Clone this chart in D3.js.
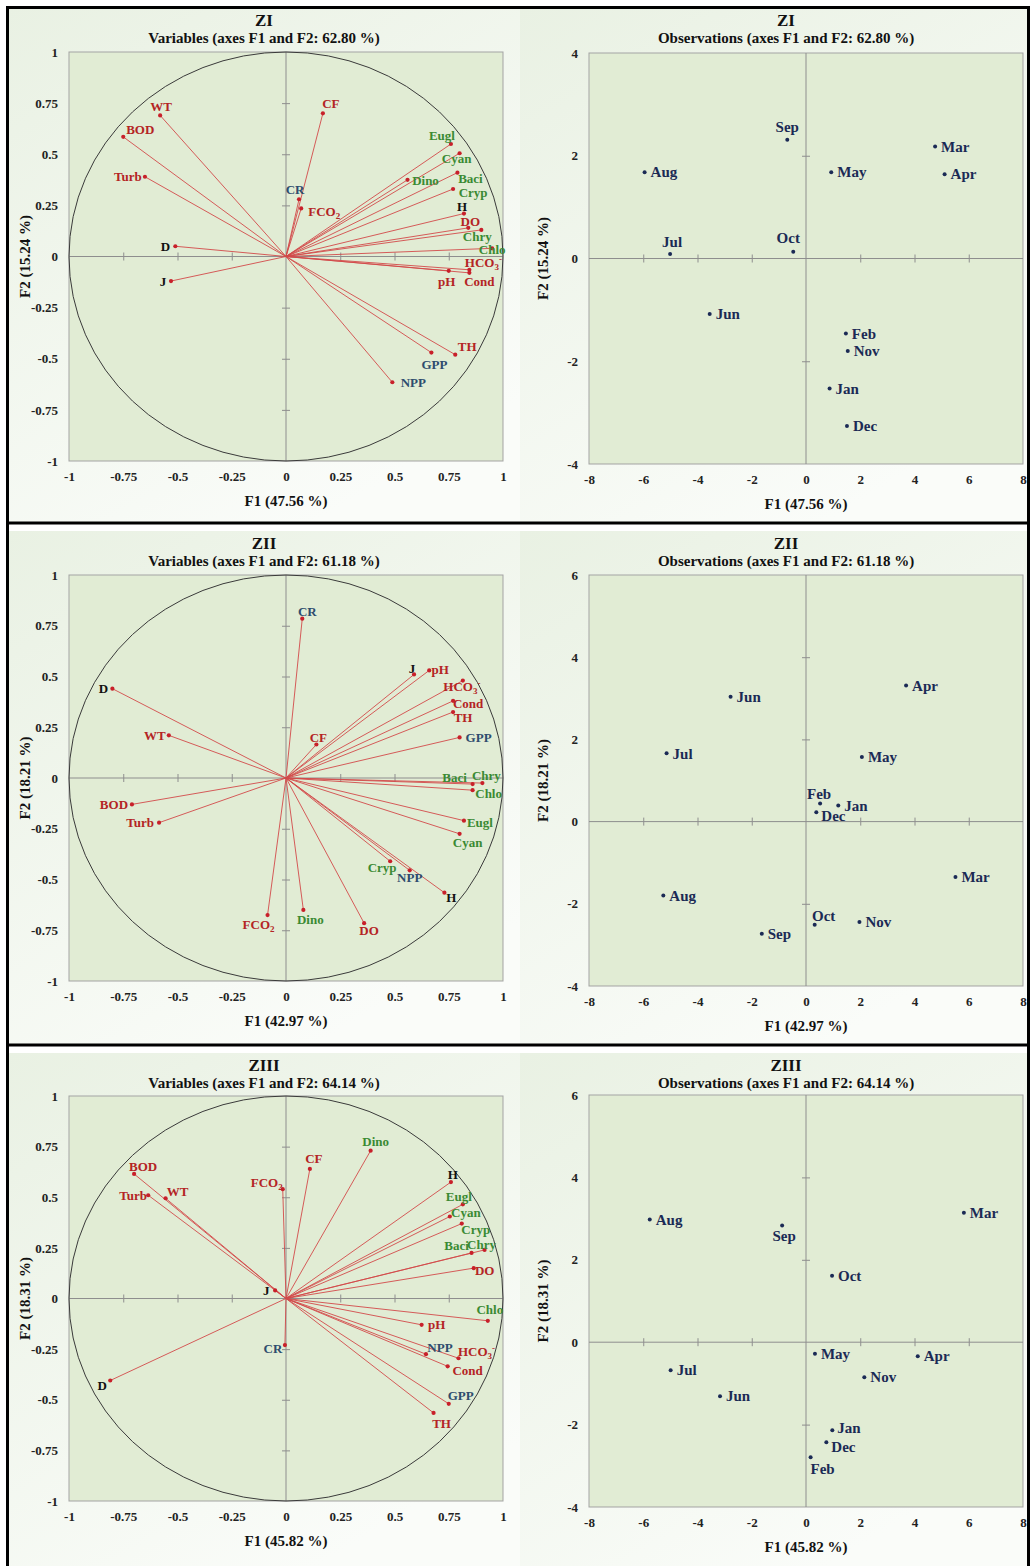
<!DOCTYPE html>
<html><head><meta charset="utf-8">
<script src="https://cdn.jsdelivr.net/npm/d3@7"></script>
<style>
body{margin:0;background:#fff}
svg{display:block}
text{font-family:"Liberation Serif","Times New Roman",serif;font-weight:bold}
</style>
</head><body>
<svg id="chart" width="1030" height="1566"></svg>
<script>
// ---------------- DATA ----------------
const zones = ["ZI", "ZII", "ZIII"];
const totalPct = ["62.80", "61.18", "64.14"];
const f1Pct = ["47.56", "42.97", "45.82"];
const f2Pct = ["15.24", "18.21", "18.31"];

const variables = ["WT","BOD","Turb","D","J","CF","CR","FCO2","Eugl","Cyan","Dino","Baci","Cryp","H","DO","Chry","Chlo","HCO3","Cond","pH","TH","GPP","NPP"];
const variableGroup = ["env","env","env","site","site","env","prod","env","phyto","phyto","phyto","phyto","phyto","site","env","phyto","phyto","env","env","env","env","prod","prod"];

const zI_varF1 = [-0.58,-0.75,-0.65,-0.51,-0.53,0.17,0.06,0.07,0.76,0.80,0.56,0.79,0.77,0.82,0.84,0.90,0.95,0.845,0.845,0.75,0.78,0.67,0.49];
const zI_varF2 = [0.69,0.585,0.39,0.05,-0.12,0.70,0.28,0.235,0.55,0.505,0.375,0.41,0.33,0.21,0.14,0.13,0.04,-0.065,-0.08,-0.07,-0.48,-0.47,-0.615];

const zII_varF1 = [-0.54,-0.71,-0.585,-0.80,0.59,0.14,0.075,-0.085,0.82,0.80,0.08,0.86,0.48,0.73,0.36,0.905,0.86,0.815,0.77,0.66,0.77,0.80,0.57];
const zII_varF2 = [0.21,-0.13,-0.22,0.44,0.51,0.165,0.785,-0.675,-0.21,-0.275,-0.65,-0.03,-0.41,-0.565,-0.715,-0.025,-0.06,0.48,0.38,0.53,0.325,0.20,-0.455];

const zIII_varF1 = [-0.555,-0.70,-0.635,-0.81,-0.05,0.11,-0.005,-0.015,0.815,0.755,0.39,0.855,0.81,0.76,0.865,0.915,0.93,0.795,0.745,0.625,0.68,0.75,0.645];
const zIII_varF2 = [0.495,0.615,0.51,-0.405,0.04,0.64,-0.23,0.54,0.465,0.405,0.73,0.225,0.37,0.575,0.15,0.24,-0.11,-0.295,-0.335,-0.13,-0.565,-0.52,-0.275];

const months = ["Jan","Feb","Mar","Apr","May","Jun","Jul","Aug","Sep","Oct","Nov","Dec"];
const zI_obsF1 = [0.87,1.47,4.76,5.11,0.93,-3.55,-5.01,-5.95,-0.69,-0.47,1.54,1.51];
const zI_obsF2 = [-2.53,-1.46,2.18,1.64,1.68,-1.08,0.09,1.68,2.31,0.13,-1.80,-3.26];
const zII_obsF1 = [1.19,0.52,5.51,3.69,2.06,-2.78,-5.14,-5.26,-1.63,0.32,1.97,0.38];
const zII_obsF2 = [0.39,0.44,-1.35,3.31,1.57,3.04,1.66,-1.80,-2.73,-2.51,-2.44,0.23];
const zIII_obsF1 = [0.97,0.17,5.82,4.12,0.33,-3.17,-4.99,-5.76,-0.88,0.96,2.15,0.75];
const zIII_obsF2 = [-2.14,-2.79,3.14,-0.34,-0.28,-1.31,-0.68,2.98,2.83,1.61,-0.85,-2.43];

const varTicks = [-1,-0.75,-0.5,-0.25,0,0.25,0.5,0.75,1];
const obsXTicks = [-8,-6,-4,-2,0,2,4,6,8];
const obsYTicksI = [-4,-2,0,2,4];
const obsYTicksII = [-4,-2,0,2,4,6];

// ---------------- LAYOUT / STYLE ----------------
const varSets = [[zI_varF1,zI_varF2],[zII_varF1,zII_varF2],[zIII_varF1,zIII_varF2]];
const obsSets = [[zI_obsF1,zI_obsF2],[zII_obsF1,zII_obsF2],[zIII_obsF1,zIII_obsF2]];
const obsYDomains = [[-4,4],[-4,6],[-4,6]];
const obsYTickSets = [obsYTicksI, obsYTicksII, obsYTicksII];

const rowsLayout = [
  {top:0,   lp:[69,503,52,461],   rp:[589,1023,53,464]},
  {top:523, lp:[69,503,575,981],  rp:[589,1023,575,986]},
  {top:1045,lp:[69,503,1096,1501],rp:[589,1023,1095,1507]}
];

const groupColor = {env:"#b42424", site:"#111111", prod:"#2e4c6e", phyto:"#3a8a33"};

// label centre offsets (px) for variable labels, per zone
const varLabelOff = [
 {WT:[1,-9],BOD:[17,-7],Turb:[-17,0],D:[-10,0],J:[-8,0],CF:[8,-10],CR:[-4,-10],FCO2:[23,3],Eugl:[-9,-9],Cyan:[-3,5],Dino:[18,1],Baci:[13,6],Cryp:[20,3],H:[-2,-7],DO:[2,-6],Chry:[-4,7],Chlo:[0,1],HCO3:[14,-7],Cond:[10,9],pH:[-2,11],TH:[12,-8],GPP:[3,12],NPP:[21,0]},
 {CR:[5,-7],D:[-9,0],WT:[-14,0],CF:[2,-7],J:[-2,-6],pH:[11,-1],HCO3:[-1,6],Cond:[15,3],TH:[10,5],GPP:[19,0],Baci:[-18,-7],Chry:[4,-8],Chlo:[16,3],BOD:[-18,0],Turb:[-19,0],Eugl:[16,2],Cyan:[8,9],Cryp:[-8,6],NPP:[0,7],H:[7,5],DO:[5,7],Dino:[7,9],FCO2:[-9,9]},
 {Dino:[5,-9],CF:[4,-10],FCO2:[-16,-7],BOD:[9,-8],Turb:[-15,0],WT:[12,-7],H:[2,-8],Eugl:[-4,-8],Cyan:[16,-4],Cryp:[14,6],Baci:[-15,-7],Chry:[-3,-5],DO:[11,2],J:[-9,0],Chlo:[2,-11],pH:[15,0],CR:[-12,3],NPP:[14,-7],HCO3:[18,-7],Cond:[20,4],GPP:[12,-8],TH:[8,11],D:[-8,5]}
];
// month label placement: [dx, dy, anchor]; default [6,0,'start']
const monthLabelOff = [
 {Sep:[0,-13,"middle"],Jul:[2,-12,"middle"],Oct:[-5,-14,"middle"]},
 {Feb:[-1,-10,"middle"],Dec:[5,4,"start"],Oct:[9,-9,"middle"]},
 {Sep:[2,10,"middle"],Feb:[12,12,"middle"],Jan:[5,-3,"start"],Dec:[5,4,"start"]}
];

const svg = d3.select("#chart");
const defs = svg.append("defs");
const grad = defs.append("linearGradient").attr("id","bg").attr("x1","0").attr("y1","0").attr("x2","0.6").attr("y2","1");
grad.append("stop").attr("offset","0").attr("stop-color","#e9f1e3");
grad.append("stop").attr("offset","1").attr("stop-color","#fafcf9");

const fmt = d => String(d);

function addLabelText(sel, name) {
  if (name === "FCO2") {
    sel.append("tspan").text("FCO");
    sel.append("tspan").attr("dy", 3).attr("font-size", 9).text("2");
  } else if (name === "HCO3") {
    sel.append("tspan").text("HCO");
    sel.append("tspan").attr("dy", 3).attr("font-size", 9).text("3");
    sel.append("tspan").attr("dy", -8).attr("font-size", 9).text("-");
  } else sel.text(name);
}

function frameAxes(g, x, y, box, xTicks, yTicks) {
  const [x0,x1,y0,y1] = box;
  g.append("rect").attr("x",x0).attr("y",y0).attr("width",x1-x0).attr("height",y1-y0)
    .attr("fill","#e1ecd4").attr("stroke","#a3a3a3").attr("stroke-width",1);
  g.append("line").attr("x1",x0).attr("x2",x1).attr("y1",y(0)).attr("y2",y(0)).attr("stroke","#8e8e8e");
  g.append("line").attr("x1",x(0)).attr("x2",x(0)).attr("y1",y0).attr("y2",y1).attr("stroke","#8e8e8e");
  const innerX = xTicks.filter(t => t !== 0 && t !== x.domain()[0] && t !== x.domain()[1]);
  const innerY = yTicks.filter(t => t !== 0 && t !== y.domain()[0] && t !== y.domain()[1]);
  const tx = g.append("g").attr("transform",`translate(0,${y(0)-4})`)
    .call(d3.axisBottom(x).tickValues(innerX).tickSize(8).tickFormat(""));
  tx.select(".domain").remove();
  tx.selectAll("line").attr("stroke","#8e8e8e");
  const ty = g.append("g").attr("transform",`translate(${x(0)+4},0)`)
    .call(d3.axisLeft(y).tickValues(innerY).tickSize(8).tickFormat(""));
  ty.select(".domain").remove();
  ty.selectAll("line").attr("stroke","#8e8e8e");
  const lx = g.append("g").attr("transform",`translate(0,${y1})`)
    .call(d3.axisBottom(x).tickValues(xTicks).tickSize(0).tickPadding(11).tickFormat(fmt));
  lx.select(".domain").remove();
  lx.selectAll("text").attr("font-size",13).attr("fill","#222").attr("font-family",null);
  const ly = g.append("g").attr("transform",`translate(${x0},0)`)
    .call(d3.axisLeft(y).tickValues(yTicks).tickSize(0).tickPadding(11).tickFormat(fmt));
  ly.select(".domain").remove();
  ly.selectAll("text").attr("font-size",13).attr("fill","#222").attr("font-family",null);
}

function titles(g, cx, top, zone, sub, box, xt, yt, yTitleX) {
  g.append("text").attr("x",cx).attr("y",top+20).attr("dy","0.35em").attr("text-anchor","middle")
    .attr("font-size",17).attr("fill","#111").text(zone);
  g.append("text").attr("x",cx).attr("y",top+38).attr("dy","0.35em").attr("text-anchor","middle")
    .attr("font-size",15).attr("fill","#111").text(sub);
  const [x0,x1,y0,y1] = box;
  g.append("text").attr("x",(x0+x1)/2).attr("y",y1+40).attr("dy","0.35em").attr("text-anchor","middle")
    .attr("font-size",15).attr("fill","#111").text(xt);
  g.append("text").attr("transform",`translate(${yTitleX},${(y0+y1)/2}) rotate(-90)`).attr("dy","0.35em")
    .attr("text-anchor","middle").attr("font-size",15).attr("fill","#111").text(yt);
}

rowsLayout.forEach((L, r) => {
  const top = L.top;
  svg.append("rect").attr("x",8).attr("y",top+8).attr("width",512).attr("height",515).attr("fill","url(#bg)");
  svg.append("rect").attr("x",520).attr("y",top+8).attr("width",508).attr("height",515).attr("fill","url(#bg)");

  // ---- Variables panel ----
  const gl = svg.append("g");
  const [a0,a1,b0,b1] = L.lp;
  const x = d3.scaleLinear().domain([-1,1]).range([a0,a1]);
  const y = d3.scaleLinear().domain([-1,1]).range([b1,b0]);
  frameAxes(gl, x, y, L.lp, varTicks, varTicks);
  titles(gl, 264, top, zones[r], `Variables (axes F1 and F2: ${totalPct[r]} %)`, L.lp,
    `F1 (${f1Pct[r]} %)`, `F2 (${f2Pct[r]} %)`, 25);
  gl.append("ellipse").attr("cx",x(0)).attr("cy",y(0)).attr("rx",x(1)-x(0)).attr("ry",y(0)-y(1))
    .attr("fill","none").attr("stroke","#3a3a3a").attr("stroke-width",1);
  const [F1, F2] = varSets[r];
  const vdata = variables.map((v,i) => ({name:v, group:variableGroup[i], f1:F1[i], f2:F2[i]}));
  gl.append("g").selectAll("line").data(vdata).join("line")
    .attr("x1",x(0)).attr("y1",y(0)).attr("x2",d=>x(d.f1)).attr("y2",d=>y(d.f2))
    .attr("stroke","#d24a4a").attr("stroke-width",0.9);
  gl.append("g").selectAll("circle").data(vdata).join("circle")
    .attr("cx",d=>x(d.f1)).attr("cy",d=>y(d.f2)).attr("r",2.1).attr("fill","#c8202a");
  gl.append("g").selectAll("text").data(vdata).join("text")
    .attr("x",d=>x(d.f1)+varLabelOff[r][d.name][0])
    .attr("y",d=>y(d.f2)+varLabelOff[r][d.name][1])
    .attr("dy","0.35em").attr("text-anchor","middle").attr("font-size",13)
    .attr("fill",d=>groupColor[d.group])
    .each(function(d){ addLabelText(d3.select(this), d.name); });

  // ---- Observations panel ----
  const gr = svg.append("g");
  const [c0,c1,e0,e1] = L.rp;
  const ox = d3.scaleLinear().domain([-8,8]).range([c0,c1]);
  const oy = d3.scaleLinear().domain(obsYDomains[r]).range([e1,e0]);
  frameAxes(gr, ox, oy, L.rp, obsXTicks, obsYTickSets[r]);
  titles(gr, 786, top, zones[r], `Observations (axes F1 and F2: ${totalPct[r]} %)`, L.rp,
    `F1 (${f1Pct[r]} %)`, `F2 (${f2Pct[r]} %)`, 543);
  const [O1, O2] = obsSets[r];
  const odata = months.map((m,i) => ({name:m, f1:O1[i], f2:O2[i]}));
  gr.append("g").selectAll("circle").data(odata).join("circle")
    .attr("cx",d=>ox(d.f1)).attr("cy",d=>oy(d.f2)).attr("r",2).attr("fill","#1b2a55");
  gr.append("g").selectAll("text").data(odata).join("text")
    .each(function(d){
      const o = monthLabelOff[r][d.name] || [6,0,"start"];
      d3.select(this).attr("x",ox(d.f1)+o[0]).attr("y",oy(d.f2)+o[1]).attr("text-anchor",o[2]);
    })
    .attr("dy","0.35em").attr("font-size",15).attr("fill","#1b2a55").text(d=>d.name);
});

// black frame lines
const frame = svg.append("g").attr("stroke","#000").attr("stroke-width",3);
frame.append("line").attr("x1",6).attr("x2",1030).attr("y1",7.5).attr("y2",7.5);
frame.append("line").attr("x1",7.5).attr("x2",7.5).attr("y1",6).attr("y2",1566);
frame.append("line").attr("x1",1028.5).attr("x2",1028.5).attr("y1",6).attr("y2",1566);
frame.append("line").attr("x1",6).attr("x2",1030).attr("y1",523).attr("y2",523);
frame.append("line").attr("x1",6).attr("x2",1030).attr("y1",1045).attr("y2",1045);
</script>
</body></html>
